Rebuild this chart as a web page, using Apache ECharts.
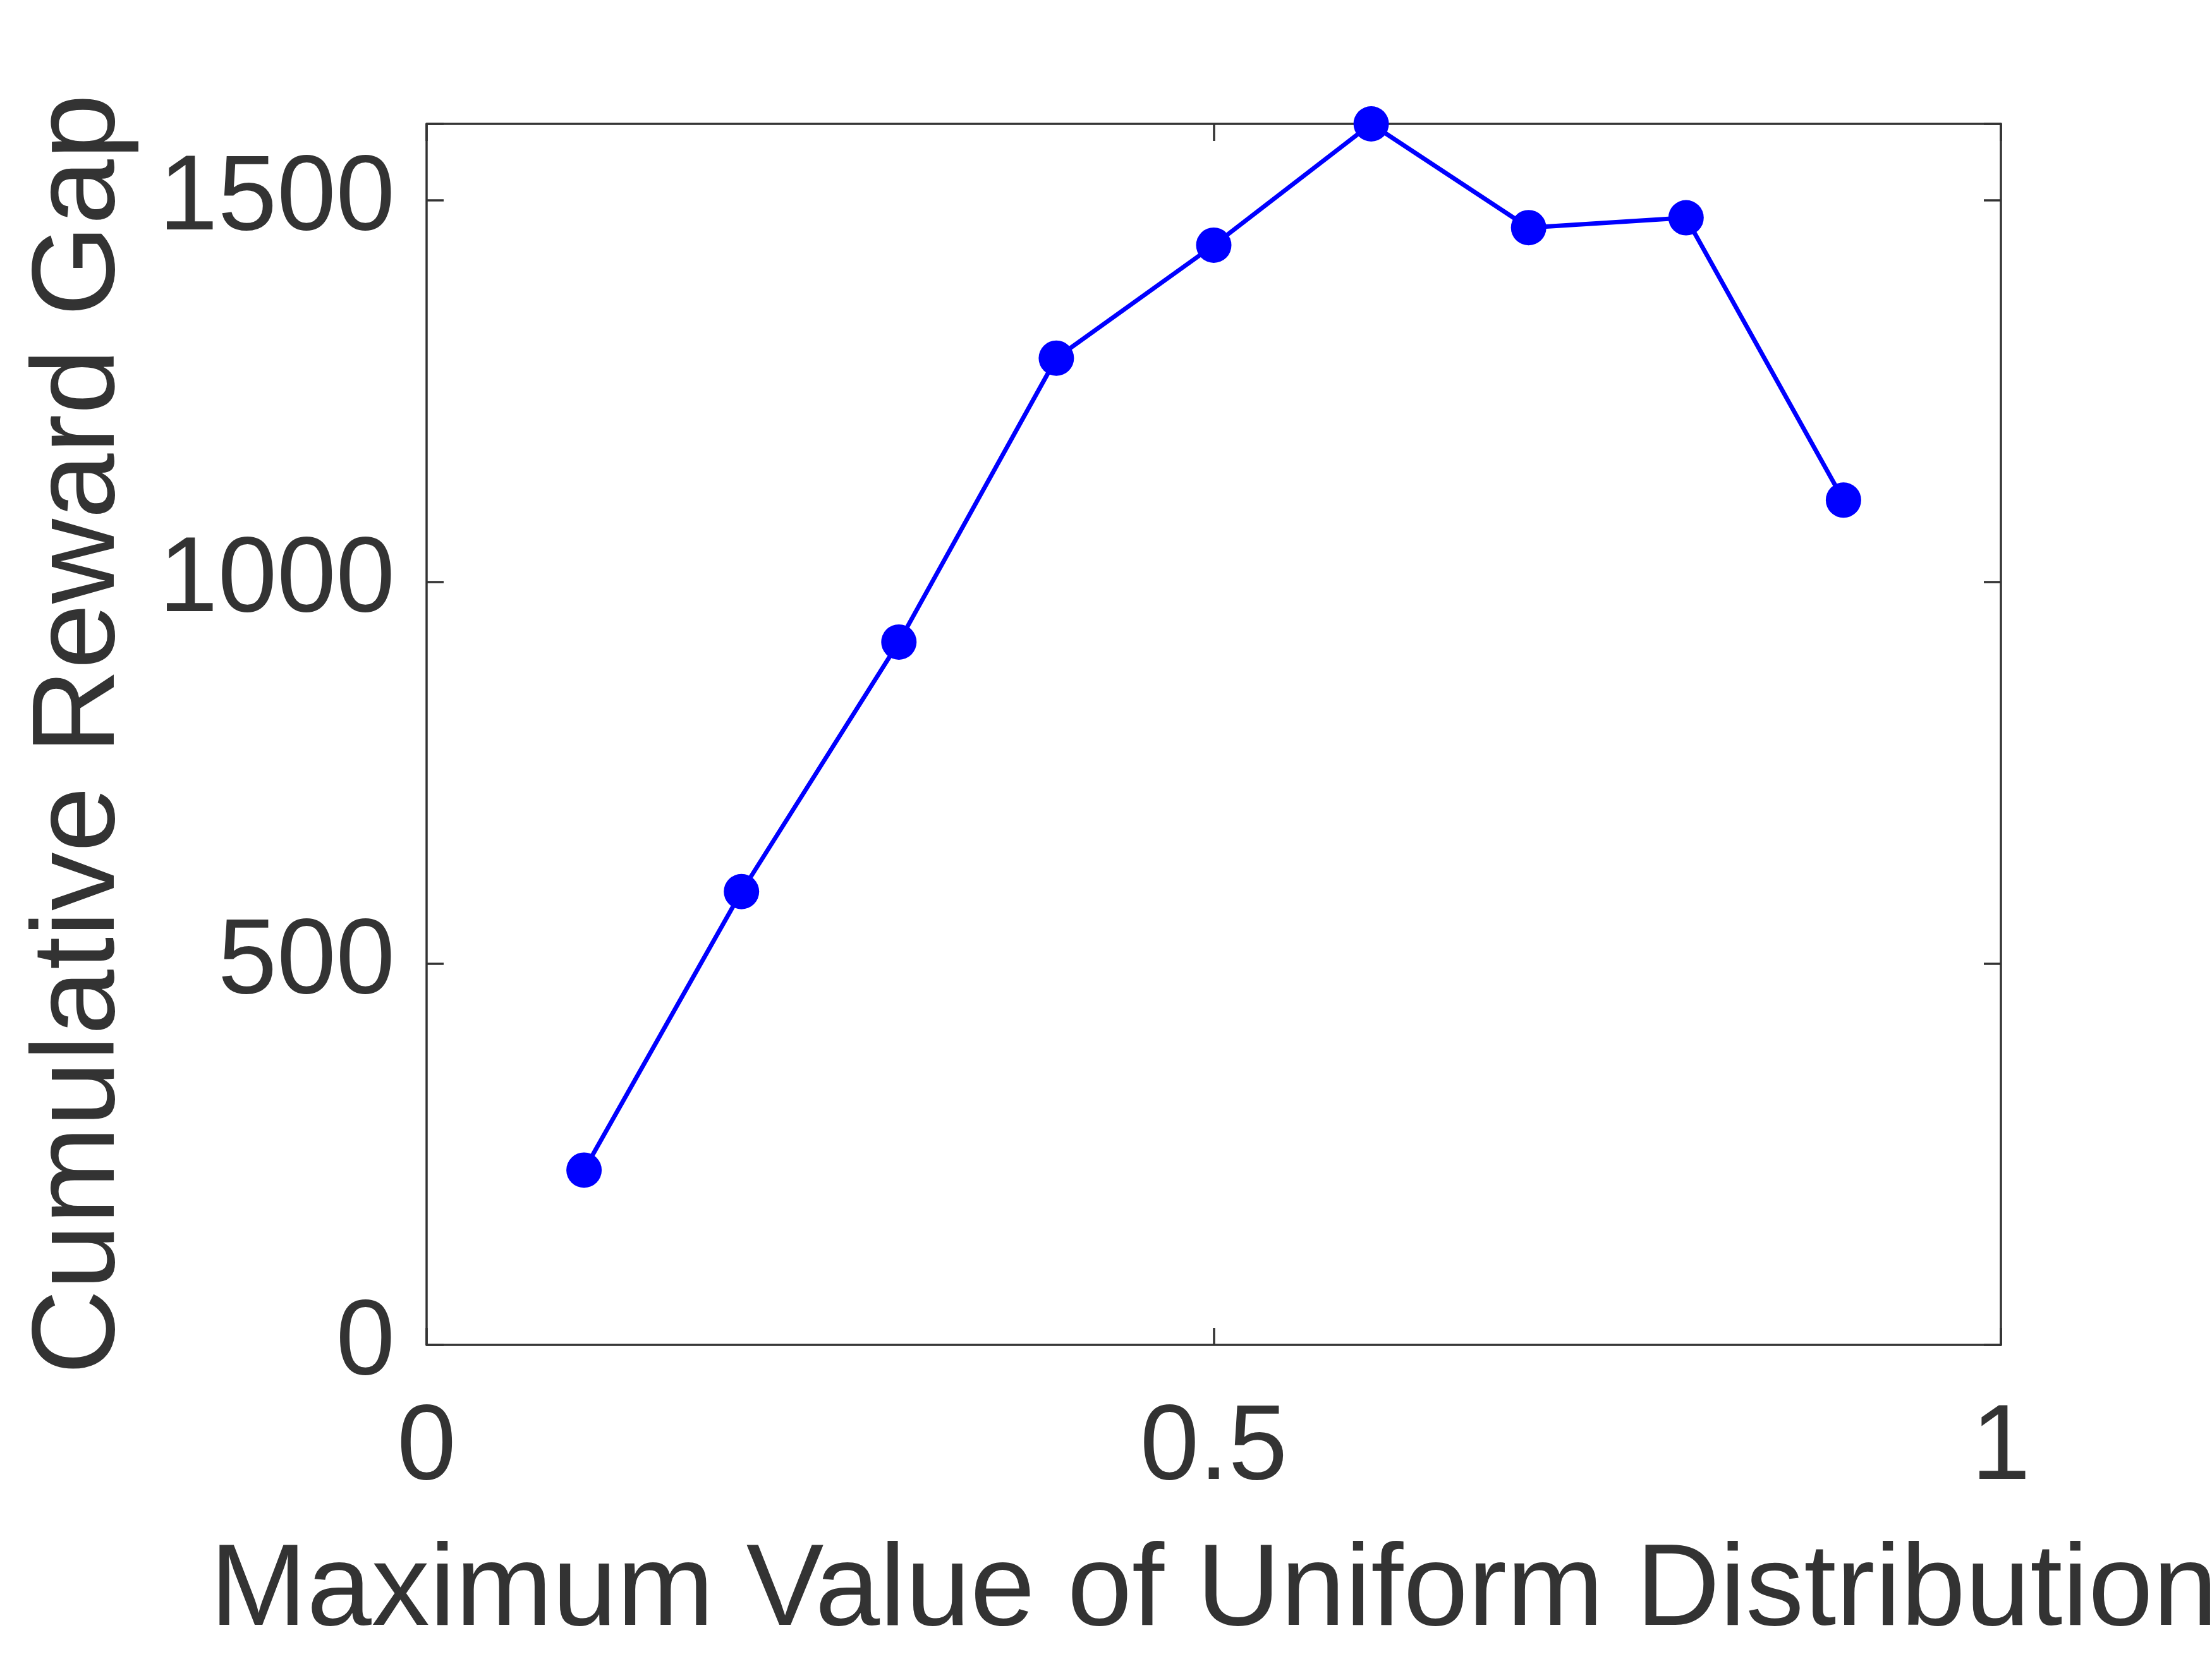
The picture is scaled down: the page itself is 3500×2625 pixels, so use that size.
<!DOCTYPE html>
<html>
<head>
<meta charset="utf-8">
<script src="https://cdn.jsdelivr.net/npm/echarts@6/dist/echarts.min.js"></script>
<style>html,body{margin:0;padding:0;background:#fff;}#c{width:3500px;height:2625px;}</style>
</head>
<body>
<div id="c"></div>
<script>
const xValues = [0.1, 0.2, 0.3, 0.4, 0.5, 0.6, 0.7, 0.8, 0.9];
const gapValues = [229, 594, 921, 1293, 1441, 1600, 1464, 1477, 1107];
const xTicks = [0, 0.5, 1];
const yTicks = [0, 500, 1000, 1500];
const xLabel = 'Maximum Value of Uniform Distribution';
const yLabel = 'Cumulative Reward Gap';

const FONT = '"Liberation Sans", Arial, Helvetica, sans-serif';
const TXT = '#333333';
const chart = echarts.init(document.getElementById('c'), null, {renderer: 'canvas'});
const axisLineStyle = {color: '#333333', width: 3.5};
chart.setOption({
  backgroundColor: '#ffffff',
  animation: false,
  grid: {left: 675, right: 334, top: 196, bottom: 497, containLabel: false, outerBoundsMode: 'none'},
  xAxis: [{
    type: 'value', min: 0, max: 1, interval: 0.5, position: 'bottom',
    axisLine: {show: true, onZero: false, lineStyle: axisLineStyle},
    axisTick: {show: true, inside: true, length: 27, lineStyle: axisLineStyle},
    splitLine: {show: false},
    axisLabel: {margin: 82, fontSize: 168, fontFamily: FONT, color: TXT,
      formatter: v => xTicks.includes(Math.round(v*10)/10) ? String(v) : ''},
    name: xLabel, nameLocation: 'middle', nameGap: 300,
    nameTextStyle: {fontSize: 184, fontFamily: FONT, color: TXT}
  }, {
    type: 'value', min: 0, max: 1, interval: 0.5, position: 'top',
    axisLine: {show: true, onZero: false, lineStyle: axisLineStyle},
    axisTick: {show: true, inside: true, length: 27, lineStyle: axisLineStyle},
    splitLine: {show: false}, axisLabel: {show: false}
  }],
  yAxis: [{
    type: 'value', min: 0, max: 1600, interval: 500, position: 'left',
    axisLine: {show: true, onZero: false, lineStyle: axisLineStyle},
    axisTick: {show: true, inside: true, length: 27, lineStyle: axisLineStyle},
    splitLine: {show: false},
    axisLabel: {margin: 50, fontSize: 168, fontFamily: FONT, color: TXT,
      formatter: v => yTicks.includes(v) ? String(v) : ''},
    name: yLabel, nameLocation: 'middle', nameGap: 453, nameRotate: 90,
    nameTextStyle: {fontSize: 186, fontFamily: FONT, color: TXT}
  }, {
    type: 'value', min: 0, max: 1600, interval: 500, position: 'right',
    axisLine: {show: true, onZero: false, lineStyle: axisLineStyle},
    axisTick: {show: true, inside: true, length: 27, lineStyle: axisLineStyle},
    splitLine: {show: false}, axisLabel: {show: false}
  }],
  series: [{
    type: 'line',
    xAxisIndex: 0, yAxisIndex: 0,
    data: xValues.map((x, i) => [x, gapValues[i]]),
    symbol: 'circle', symbolSize: 56,
    lineStyle: {color: '#0000ff', width: 7},
    itemStyle: {color: '#0000ff'},
    clip: false, z: 5
  }]
});
</script>
</body>
</html>
